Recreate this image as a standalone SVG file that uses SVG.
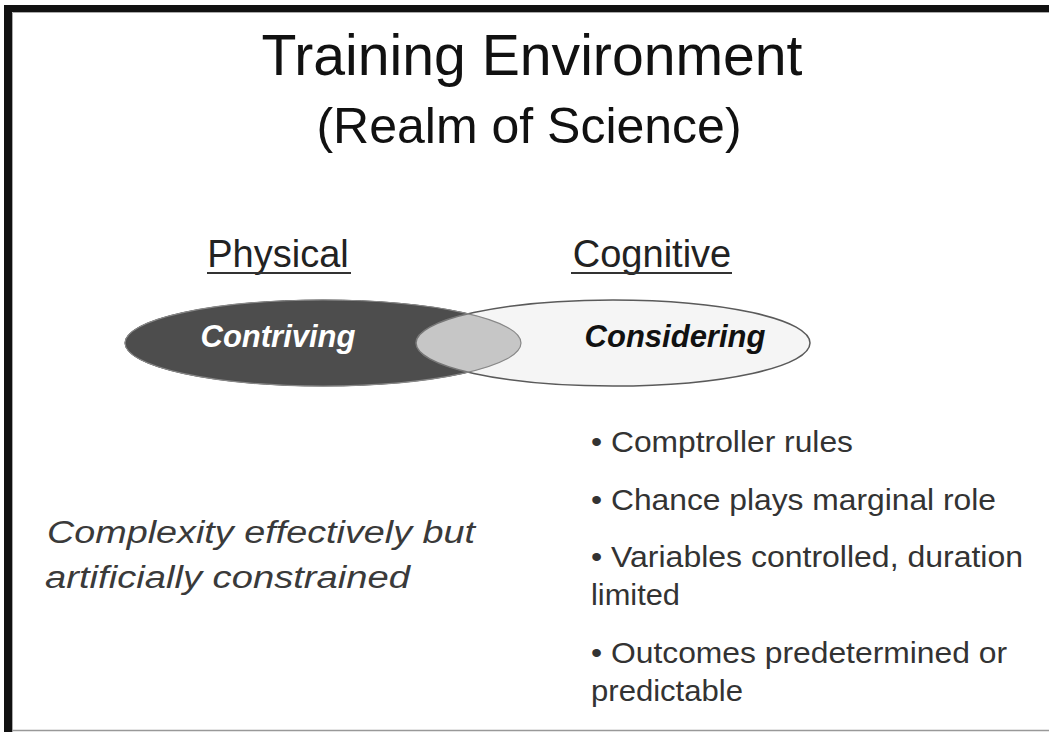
<svg xmlns="http://www.w3.org/2000/svg" width="1049" height="732" viewBox="0 0 1049 732">
<style>
.t{font-family:"Liberation Sans",Arial,sans-serif;}
.title{font-size:57px;fill:#111;}
.sub{font-size:50px;fill:#111;}
.head{font-size:38px;fill:#222;}
.el{font-size:31px;font-weight:bold;font-style:italic;}
.bul{font-size:30px;fill:#333;}
.left{font-size:31px;font-style:italic;fill:#3a3a3a;}
</style>
<defs>
<clipPath id="darkClip"><ellipse cx="323" cy="343" rx="198" ry="43"/></clipPath>
</defs>
<rect x="0" y="0" width="1049" height="732" fill="#ffffff"/>
<g id="frame">
<rect x="4" y="5" width="1045" height="7" fill="#111"/>
<rect x="4" y="5" width="8" height="727" fill="#111"/>
<line x1="12.5" y1="12.5" x2="1049" y2="12.5" stroke="#aaa" stroke-width="1"/>
<line x1="12.5" y1="12.5" x2="12.5" y2="732" stroke="#aaa" stroke-width="1"/>
<line x1="12" y1="730.5" x2="1049" y2="730.5" stroke="#999" stroke-width="1.5"/>
</g>
<g id="title">
<text class="t title" x="532" y="75" text-anchor="middle" textLength="541" lengthAdjust="spacingAndGlyphs">Training Environment</text>
<text class="t sub" x="529" y="143" text-anchor="middle">(Realm of Science)</text>
</g>
<g id="physical">
<text class="t head" x="278" y="267" text-anchor="middle">Physical</text>
<line x1="207" y1="273" x2="351" y2="273" stroke="#333" stroke-width="2"/>
</g>
<g id="cognitive">
<text class="t head" x="652" y="267" text-anchor="middle">Cognitive</text>
<line x1="571" y1="273" x2="732" y2="273" stroke="#333" stroke-width="2"/>
</g>
<g id="contriving">
<ellipse cx="323" cy="343" rx="198" ry="43" fill="#4d4d4d" stroke="#444" stroke-width="1"/>
</g>
<g id="considering">
<ellipse cx="613" cy="343" rx="197" ry="43" fill="#f5f5f5" stroke="#5a5a5a" stroke-width="1.5"/>
</g>
<g id="overlap">
<ellipse cx="613" cy="343" rx="197" ry="43" fill="#c6c6c6" clip-path="url(#darkClip)"/>
<ellipse cx="613" cy="343" rx="197" ry="43" fill="none" stroke="#777" stroke-width="1.5" clip-path="url(#darkClip)"/>
<ellipse cx="323" cy="343" rx="198" ry="43" fill="none" stroke="#888" stroke-width="1.2"/>
</g>
<g id="labels">
<text class="t el" x="278" y="347" text-anchor="middle" fill="#ffffff">Contriving</text>
<text class="t el" x="675" y="347" text-anchor="middle" fill="#111">Considering</text>
</g>
<g id="complexity">
<text class="t left" x="47" y="543" textLength="428" lengthAdjust="spacingAndGlyphs">Complexity effectively but</text>
<text class="t left" x="45" y="588" textLength="365" lengthAdjust="spacingAndGlyphs">artificially constrained</text>
</g>
<g id="bullets">
<text class="t bul" x="591" y="452" textLength="262" lengthAdjust="spacingAndGlyphs">• Comptroller rules</text>
<text class="t bul" x="591" y="510" textLength="405" lengthAdjust="spacingAndGlyphs">• Chance plays marginal role</text>
<text class="t bul" x="591" y="567" textLength="432" lengthAdjust="spacingAndGlyphs">• Variables controlled, duration</text>
<text class="t bul" x="591" y="605" textLength="89" lengthAdjust="spacingAndGlyphs">limited</text>
<text class="t bul" x="591" y="663" textLength="416" lengthAdjust="spacingAndGlyphs">• Outcomes predetermined or</text>
<text class="t bul" x="591" y="701" textLength="152" lengthAdjust="spacingAndGlyphs">predictable</text>
</g>
</svg>
